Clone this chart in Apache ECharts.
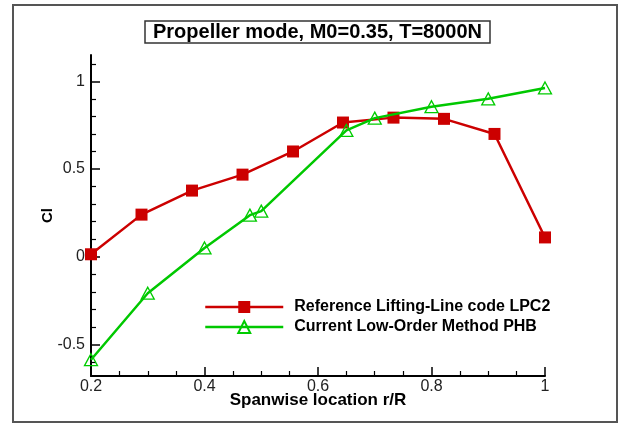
<!DOCTYPE html>
<html>
<head>
<meta charset="utf-8">
<script src="https://cdn.jsdelivr.net/npm/echarts@6/dist/echarts.min.js"></script>
<style>
html,body{margin:0;padding:0;background:#fff;}
#c{width:619px;height:423px;}
</style>
</head>
<body>
<div id="c"></div>
<script>
// ---- data ----
const titleText = 'Propeller mode, M0=0.35, T=8000N';
const seriesNames = ['Reference Lifting-Line code LPC2', 'Current Low-Order Method PHB'];
const spanRef = [0.2, 0.289, 0.378, 0.467, 0.556, 0.644, 0.733, 0.822, 0.911, 1.0];
const clRef   = [0.014, 0.24, 0.377, 0.468, 0.60, 0.765, 0.793, 0.786, 0.70, 0.11];
const spanPHB = [0.2, 0.3, 0.4, 0.48, 0.5, 0.65, 0.7, 0.8, 0.9, 1.0];
const clPHB   = [-0.587, -0.208, 0.05, 0.237, 0.26, 0.72, 0.79, 0.855, 0.90, 0.962];
const xMajorTicks = [0.2, 0.4, 0.6, 0.8, 1.0];
const xMinorTicks = [0.25, 0.3, 0.35, 0.45, 0.5, 0.55, 0.65, 0.7, 0.75, 0.85, 0.9, 0.95];
const yMajorTicks = [-0.5, 0, 0.5, 1.0];
const yMinorTicks = [-0.6, -0.4, -0.3, -0.2, -0.1, 0.1, 0.2, 0.3, 0.4, 0.6, 0.7, 0.8, 0.9, 1.1];
const xName = 'Spanwise location r/R';
const yName = 'Cl';

const FONT = "'Liberation Sans', Arial, sans-serif";
const chart = echarts.init(document.getElementById('c'), null, {renderer: 'canvas'});

function pairs(xs, ys) { return xs.map((x, i) => [x, ys[i]]); }

const xBase = {min: 0.2, max: 1.0, type: 'value', splitLine: {show: false}};
const yBase = {min: -0.68, max: 1.15, type: 'value', splitLine: {show: false}};

const option = {
  animation: false,
  backgroundColor: '#fff',
  title: {
    text: titleText,
    left: 145, top: 21,
    padding: [1, 8, 1, 8],
    borderColor: '#333', borderWidth: 1.5,
    textStyle: {fontFamily: FONT, fontSize: 20, fontWeight: 'bold', color: '#000', lineHeight: 20}
  },
  graphic: [{
    type: 'rect', shape: {x: 13, y: 5, width: 604, height: 417},
    style: {fill: 'none', stroke: '#555', lineWidth: 2}, silent: true, z: -1
  }],
  legend: {
    orient: 'vertical', left: 199, top: 294,
    itemWidth: 78, itemHeight: 15, itemGap: 4,
    lineStyle: {width: 2.5},
    textStyle: {fontFamily: FONT, fontSize: 16, fontWeight: 'bold', color: '#000', lineHeight: 16, padding: [0, 0, 0, 6]},
    data: seriesNames
  },
  grid: {left: 91, right: 74, top: 55, bottom: 47, containLabel: false},
  xAxis: [
    Object.assign({}, xBase, {
      name: xName, nameLocation: 'middle', nameGap: 16, nameMoveOverlap: false,
      nameTextStyle: {fontFamily: FONT, fontSize: 17, fontWeight: 'bold', color: '#000'},
      axisLine: {show: true, onZero: false, lineStyle: {color: '#000', width: 2}},
      axisTick: {show: true, inside: true, length: 9, customValues: xMajorTicks, lineStyle: {color: '#000', width: 1.5}},
      axisLabel: {customValues: xMajorTicks, margin: 3, fontFamily: FONT, fontSize: 16, color: '#222'}
    }),
    Object.assign({}, xBase, {
      position: 'bottom',
      axisLine: {show: false, onZero: false},
      axisTick: {show: true, inside: true, length: 5, customValues: xMinorTicks, lineStyle: {color: '#000', width: 1.2}},
      axisLabel: {show: false}
    })
  ],
  yAxis: [
    Object.assign({}, yBase, {
      name: yName, nameLocation: 'middle', nameGap: 36, nameRotate: 90, nameMoveOverlap: false,
      nameTextStyle: {fontFamily: FONT, fontSize: 15, fontWeight: 'bold', color: '#000'},
      axisLine: {show: true, onZero: false, lineStyle: {color: '#000', width: 2}},
      axisTick: {show: true, inside: true, length: 9, customValues: yMajorTicks, lineStyle: {color: '#000', width: 1.5}},
      axisLabel: {customValues: yMajorTicks, margin: 6, fontFamily: FONT, fontSize: 16, color: '#222'}
    }),
    Object.assign({}, yBase, {
      position: 'left',
      axisLine: {show: false, onZero: false},
      axisTick: {show: true, inside: true, length: 5, customValues: yMinorTicks, lineStyle: {color: '#000', width: 1.2}},
      axisLabel: {show: false}
    })
  ],
  series: [
    {
      name: seriesNames[0], type: 'line', xAxisIndex: 0, yAxisIndex: 0,
      data: pairs(spanRef, clRef),
      symbol: 'rect', symbolSize: 12,
      lineStyle: {color: '#cc0000', width: 2.5},
      itemStyle: {color: '#cc0000'},
      z: 2
    },
    {
      name: seriesNames[1], type: 'line', xAxisIndex: 0, yAxisIndex: 0,
      data: pairs(spanPHB, clPHB),
      symbol: 'triangle', symbolSize: [13, 12],
      lineStyle: {color: '#00c800', width: 2.5},
      itemStyle: {color: 'rgba(255,255,255,0)', borderColor: '#00cc00', borderWidth: 1.3},
      z: 3
    }
  ]
};
chart.setOption(option);
</script>
</body>
</html>
